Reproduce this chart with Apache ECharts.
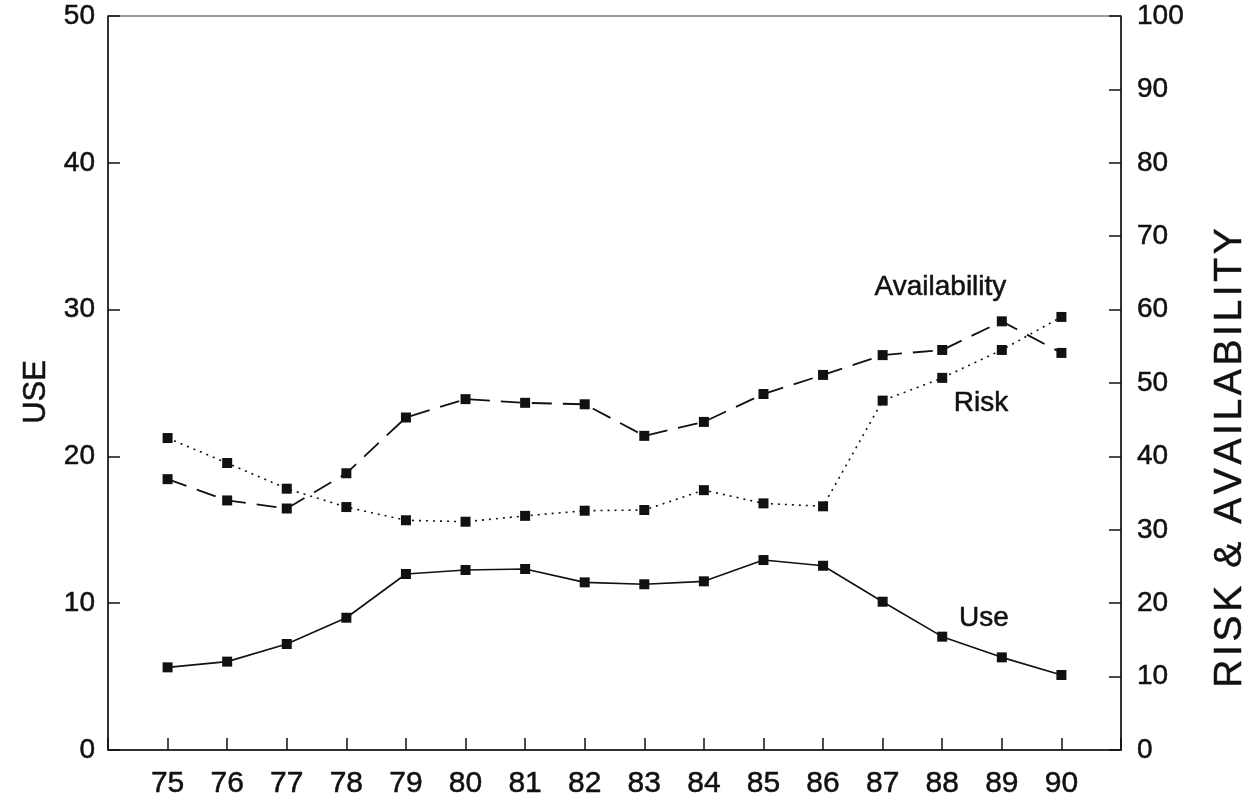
<!DOCTYPE html>
<html>
<head>
<meta charset="utf-8">
<script src="https://cdn.jsdelivr.net/npm/echarts@6/dist/echarts.min.js"></script>
<style>
html,body{margin:0;padding:0;background:#fff;}
#chart{width:1246px;height:801px;}
</style>
</head>
<body>
<div id="chart"></div>
<script>
// Data
var years = [75, 76, 77, 78, 79, 80, 81, 82, 83, 84, 85, 86, 87, 88, 89, 90];
var useValues = [5.63, 6.02, 7.22, 9.01, 11.99, 12.26, 12.33, 11.42, 11.29, 11.49, 12.94, 12.55, 10.10, 7.72, 6.31, 5.11];
var availabilityValues = [36.9, 34.0, 32.9, 37.7, 45.3, 47.8, 47.3, 47.1, 42.8, 44.7, 48.5, 51.1, 53.8, 54.5, 58.4, 54.1];
var riskValues = [42.5, 39.1, 35.6, 33.1, 31.3, 31.1, 31.9, 32.6, 32.7, 35.4, 33.6, 33.2, 47.6, 50.7, 54.5, 59.0];
var leftTicks = [0, 10, 20, 30, 40, 50];
var rightTicks = [0, 10, 20, 30, 40, 50, 60, 70, 80, 90, 100];

function pairs(xs, ys) { return xs.map(function (x, i) { return [x, ys[i]]; }); }

var FONT = '"Liberation Sans", Arial, Helvetica, sans-serif';
var INK = '#111';
var THICK = {textBorderColor: INK, textBorderWidth: 0.5};

function spaced(str) {
  return str.split('').map(function (c) { return '{s|' + c + '}'; }).join('');
}

var chart = echarts.init(document.getElementById('chart'), null, {renderer: 'canvas'});

function annot(text, coord) {
  return {
    symbol: 'rect', symbolSize: 0,
    data: [{coord: coord, value: text}],
    label: Object.assign({show: true, position: 'inside', formatter: text, color: INK, fontSize: 28, fontFamily: FONT}, THICK),
    silent: true
  };
}

var option = {
  backgroundColor: '#fff',
  animation: false,
  grid: {left: 108, right: 125, top: 16, bottom: 51, containLabel: false, outerBoundsMode: 'none',
         show: true, borderColor: '#333', borderWidth: 1},
  xAxis: {
    type: 'value', min: 74, max: 91, interval: 1,
    axisLine: {show: true, onZero: false, lineStyle: {color: INK, width: 1.5}},
    axisTick: {show: true, inside: true, length: 12, lineStyle: {color: INK, width: 1.5}},
    splitLine: {show: false},
    axisLabel: Object.assign({
      color: INK, fontSize: 30, fontFamily: FONT, margin: 19,
      formatter: function (v) { return years.indexOf(v) >= 0 ? String(v) : ''; }
    }, THICK)
  },
  yAxis: [
    {
      type: 'value', min: leftTicks[0], max: leftTicks[leftTicks.length - 1], interval: 10,
      position: 'left', name: 'USE', nameLocation: 'middle', nameGap: 56, nameRotate: 90,
      nameTextStyle: Object.assign({color: INK, fontSize: 31, fontFamily: FONT, padding: [0, 18, 0, 0]}, THICK),
      axisLine: {show: true, lineStyle: {color: INK, width: 1.5}},
      axisTick: {show: true, inside: true, length: 12, lineStyle: {color: INK, width: 1.5}},
      splitLine: {show: false},
      axisLabel: Object.assign({color: INK, fontSize: 28, fontFamily: FONT, margin: 13, padding: [6, 0, 0, 0]}, THICK)
    },
    {
      type: 'value', min: rightTicks[0], max: rightTicks[rightTicks.length - 1], interval: 10,
      position: 'right', name: 'RISK & AVAILABILITY', nameLocation: 'middle', nameGap: 90, nameRotate: 90,
      nameTextStyle: Object.assign({
        color: INK, fontSize: 39, fontFamily: FONT, padding: [0, 150, 0, 0],
        rich: {s: {color: INK, fontSize: 39, fontFamily: FONT, padding: [0, 1.8, 0, 1.8], textBorderColor: INK, textBorderWidth: 0.5}}
      }, THICK),
      axisLine: {show: true, lineStyle: {color: INK, width: 1.5}},
      axisTick: {show: true, inside: true, length: 12, lineStyle: {color: INK, width: 1.5}},
      splitLine: {show: false},
      axisLabel: Object.assign({color: INK, fontSize: 28, fontFamily: FONT, margin: 16, padding: [6, 0, 0, 0]}, THICK)
    }
  ],
  series: [
    {
      name: 'Use', type: 'line', yAxisIndex: 0, data: pairs(years, useValues),
      symbol: 'rect', symbolSize: 10, showAllSymbol: true,
      itemStyle: {color: INK},
      lineStyle: {color: INK, width: 1.6, type: 'solid'},
      markPoint: annot('Use', [88.7, 8.95])
    },
    {
      name: 'Availability', type: 'line', yAxisIndex: 1, data: pairs(years, availabilityValues),
      symbol: 'rect', symbolSize: 10, showAllSymbol: true,
      itemStyle: {color: INK},
      lineStyle: {color: INK, width: 1.8, type: [20, 11]},
      markPoint: annot('Availability', [87.97, 63.1])
    },
    {
      name: 'Risk', type: 'line', yAxisIndex: 1, data: pairs(years, riskValues),
      symbol: 'rect', symbolSize: 10, showAllSymbol: true,
      itemStyle: {color: INK},
      lineStyle: {color: INK, width: 1.6, type: [2, 5]},
      markPoint: annot('Risk', [88.65, 47.2])
    }
  ]
};
option.yAxis[1].name = spaced('RISK & AVAILABILITY');
chart.setOption(option);
</script>
</body>
</html>
